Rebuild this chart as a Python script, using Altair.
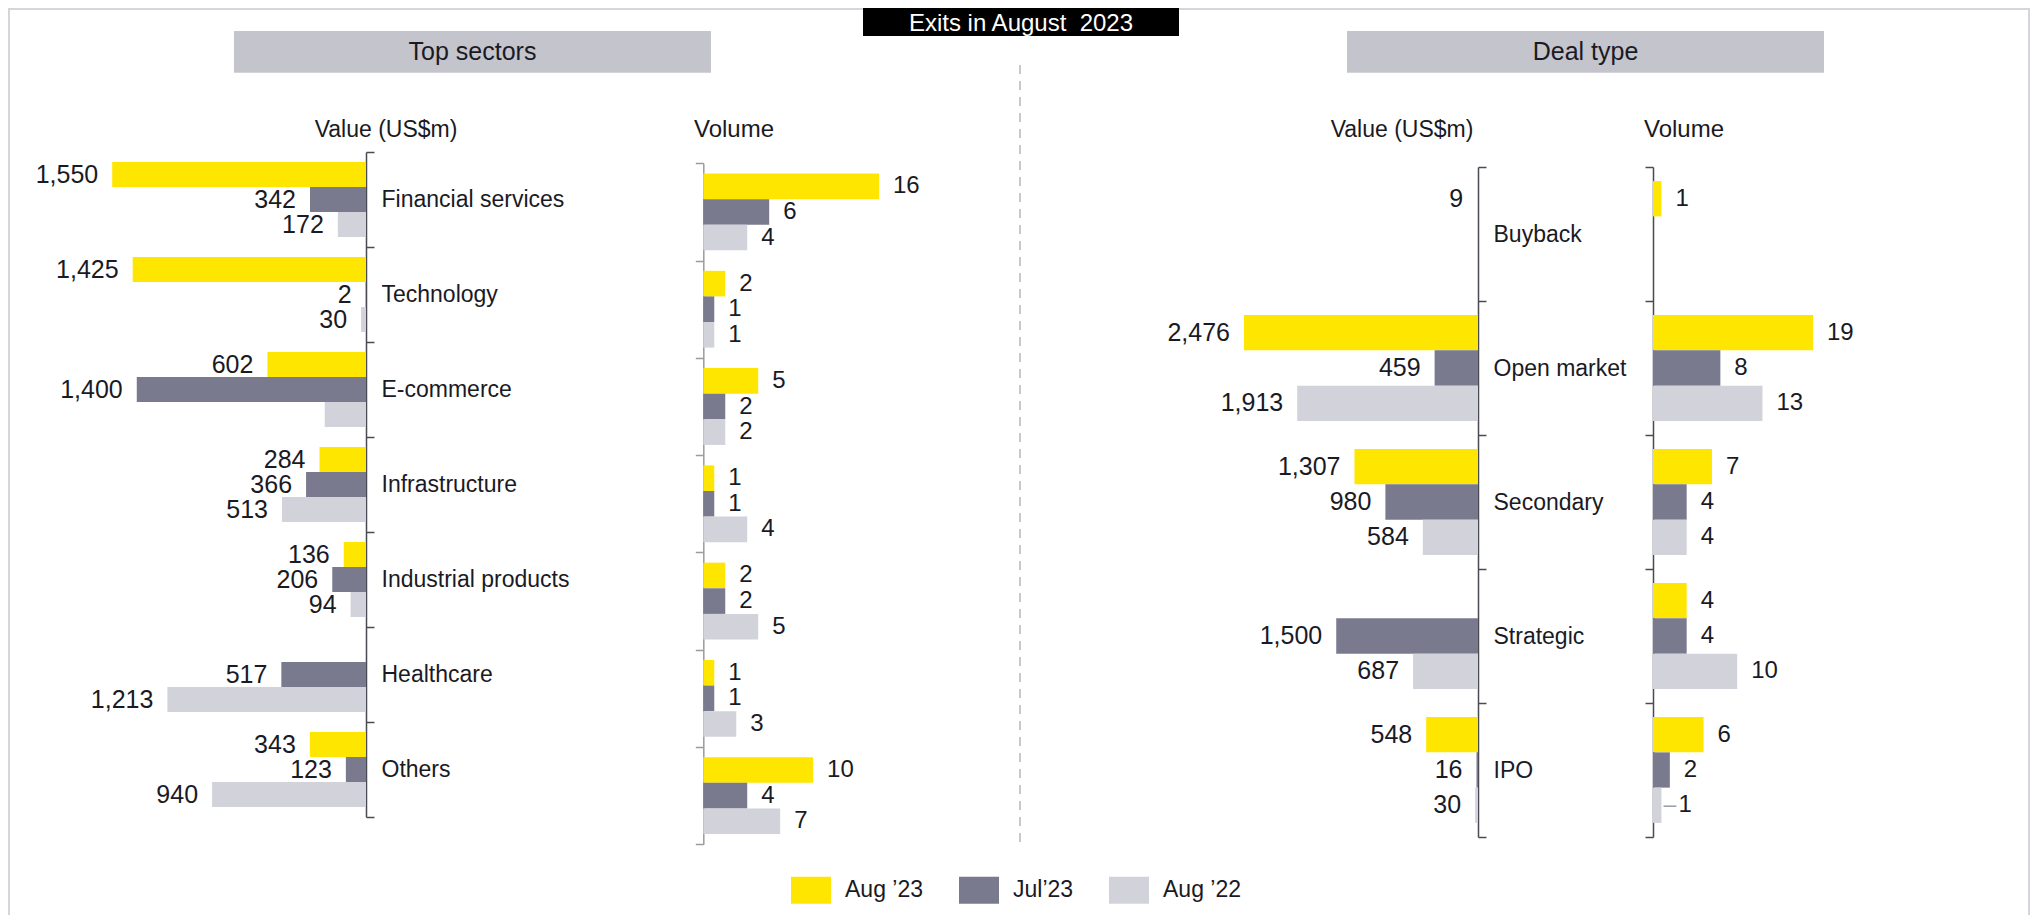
import altair as alt
import pandas as pd

FONT = "Liberation Sans"
TXT = "#1A1A24"

# ---------------- data ----------------
periods = ["Aug ’23", "Jul’23", "Aug ’22"]
period_colors = ["#FFE600", "#7A7A8F", "#D2D2DA"]

sectors = ["Financial services", "Technology", "E-commerce", "Infrastructure",
           "Industrial products", "Healthcare", "Others"]
sector_value_aug23 = [1550, 1425, 602, 284, 136, None, 343]
sector_value_jul23 = [342, 2, 1400, 366, 206, 517, 123]
sector_value_aug22 = [172, 30, 252, 513, 94, 1213, 940]
sector_value_unlabelled = [("E-commerce", "Aug ’22")]
sector_volume_aug23 = [16, 2, 5, 1, 2, 1, 10]
sector_volume_jul23 = [6, 1, 2, 1, 2, 1, 4]
sector_volume_aug22 = [4, 1, 2, 4, 5, 3, 7]

deal_types = ["Buyback", "Open market", "Secondary", "Strategic", "IPO"]
deal_value_aug23 = [9, 2476, 1307, None, 548]
deal_value_jul23 = [None, 459, 980, 1500, 16]
deal_value_aug22 = [None, 1913, 584, 687, 30]
deal_volume_aug23 = [1, 19, 7, 4, 6]
deal_volume_jul23 = [None, 8, 4, 4, 2]
deal_volume_aug22 = [None, 13, 4, 10, 1]
deal_volume_leader = [("IPO", "Aug ’22")]


def long_df(cats, series, hidden=(), leaders=()):
    rows = []
    for p, vals in zip(periods, series):
        for c, v in zip(cats, vals):
            if v is None:
                continue
            rows.append({"cat": c, "period": p, "v": v,
                         "show": (c, p) not in hidden,
                         "lead": (c, p) in leaders})
    return pd.DataFrame(rows)


sv = long_df(sectors, [sector_value_aug23, sector_value_jul23, sector_value_aug22],
             hidden=sector_value_unlabelled)
sn = long_df(sectors, [sector_volume_aug23, sector_volume_jul23, sector_volume_aug22])
dv = long_df(deal_types, [deal_value_aug23, deal_value_jul23, deal_value_aug22])
dn = long_df(deal_types, [deal_volume_aug23, deal_volume_jul23, deal_volume_aug22],
             leaders=deal_volume_leader)

W, H = 2026, 907

LEGEND = alt.Legend(orient="none", legendX=783, legendY=862, direction="horizontal",
                    title=None, symbolType="M-1,-0.675H1V0.675H-1Z", symbolSize=1600,
                    symbolStrokeWidth=0, symbolOpacity=1, labelFont=FONT, labelFontSize=23,
                    labelColor=TXT, labelOffset=14, columnPadding=35, padding=0)


def panel(df, cats, dmax, xr, yr, orient, axis_x, show_labels, domain_color, left_labels):
    offset = (axis_x - W) if orient == "right" else -axis_x
    x = alt.X("v:Q", scale=alt.Scale(domain=[0, dmax], range=xr, nice=False, zero=True), axis=None)
    y = alt.Y("cat:N", sort=cats,
              scale=alt.Scale(domain=cats, range=yr, paddingInner=0, paddingOuter=0),
              axis=alt.Axis(orient=orient, offset=offset, title=None, tickBand="extent",
                            labels=show_labels, grid=False, domainColor=domain_color,
                            domainWidth=1.5, tickColor=domain_color, tickWidth=1.5, tickSize=8,
                            labelFont=FONT, labelFontSize=23, labelColor=TXT, labelPadding=7,
                            labelAlign="left", labelBaseline="middle", labelLimit=0))
    yo = alt.YOffset("period:N", sort=periods,
                     scale=alt.Scale(domain=periods, paddingInner=0, paddingOuter=0.4))
    color = alt.Color("period:N", scale=alt.Scale(domain=periods, range=period_colors),
                      legend=LEGEND)
    bars = alt.Chart(df).mark_bar().encode(x=x, y=y, yOffset=yo, color=color)
    layers = [bars]
    if left_labels:
        txt = alt.Chart(df).transform_filter("datum.show && !datum.lead").mark_text(
            align="right", baseline="middle", dx=-14, font=FONT, fontSize=25, color=TXT
        ).encode(x=x, y=y, yOffset=yo, text=alt.Text("v:Q", format=","))
        layers.append(txt)
    else:
        txt = alt.Chart(df).transform_filter("datum.show && !datum.lead").mark_text(
            align="left", baseline="middle", dx=14, font=FONT, fontSize=24, color=TXT
        ).encode(x=x, y=y, yOffset=yo, text=alt.Text("v:Q", format=","))
        lead = alt.Chart(df).transform_filter("datum.lead").mark_text(
            align="left", baseline="middle", dx=2, font=FONT, fontSize=23, color="#A0A0A8"
        ).encode(x=x, y=y, yOffset=yo, text=alt.value("–"))
        lead_txt = alt.Chart(df).transform_filter("datum.lead").mark_text(
            align="left", baseline="middle", dx=17, font=FONT, fontSize=24, color=TXT
        ).encode(x=x, y=y, yOffset=yo, text=alt.Text("v:Q", format=","))
        layers += [txt, lead, lead_txt]
    return alt.layer(*layers)


pA = panel(sv, sectors, 1550, [358, 104.2], [144, 809], "right", 358, True, "#4A4A55", True)
pB = panel(sn, sectors, 16, [695.3, 871], [155.3, 836.3], "left", 695.3, False, "#9A9AA2", False)
pC = panel(dv, deal_types, 2476, [1470, 1236], [159, 829], "right", 1470, True, "#4A4A55", True)
pD = panel(dn, deal_types, 19, [1645, 1805], [159, 829], "left", 1645, False, "#4A4A55", False)

# ---------------- decoration ----------------
dummy = pd.DataFrame({"d": [0]})


def rect(x, x2, y, y2, **kw):
    return alt.Chart(dummy).mark_rect(**kw).encode(
        x=alt.value(x), x2=alt.value(x2), y=alt.value(y), y2=alt.value(y2))


def label(t, x, y, size=23, color=TXT, **kw):
    return alt.Chart(dummy).mark_text(text=t, font=FONT, fontSize=size, color=color, **kw).encode(
        x=alt.value(x), y=alt.value(y))


frame = rect(1, 2021, 1, 1000, fill=None, stroke="#D5D5DC", strokeWidth=2)
title_box = rect(855, 1171, -4, 28, fill="black")
title_txt = label("Exits in August\u00a0 2023", 1013, 22.5, size=24, color="white",
                  align="center", baseline="alphabetic")
hdr1 = rect(226, 703, 23, 64.7, fill="#C4C4CD")
hdr1_txt = label("Top sectors", 464.5, 44, size=25, align="center", baseline="middle")
hdr2 = rect(1339, 1816, 23, 64.7, fill="#C4C4CD")
hdr2_txt = label("Deal type", 1577.5, 44, size=25, align="center", baseline="middle")
divider = alt.Chart(dummy).mark_rule(color="#C8C8D0", strokeWidth=2, strokeDash=[9, 7]).encode(
    x=alt.value(1012), y=alt.value(57), y2=alt.value(839))
sub1 = label("Value (US$m)", 378, 122, align="center", baseline="middle")
sub2 = label("Volume", 726, 122, size=24, align="center", baseline="middle")
sub3 = label("Value (US$m)", 1394, 122, align="center", baseline="middle")
sub4 = label("Volume", 1676, 122, size=24, align="center", baseline="middle")

chart = alt.layer(
    frame, title_box, title_txt, hdr1, hdr1_txt, hdr2, hdr2_txt, divider,
    sub1, sub2, sub3, sub4, pA, pB, pC, pD
).resolve_scale(
    x="independent", y="independent", yOffset="independent"
).properties(
    width=W, height=H, padding=0, autosize=alt.AutoSizeParams(type="none")
).configure_view(stroke=None)

chart.save("out.html", embed_options={"renderer": "svg", "actions": False})
